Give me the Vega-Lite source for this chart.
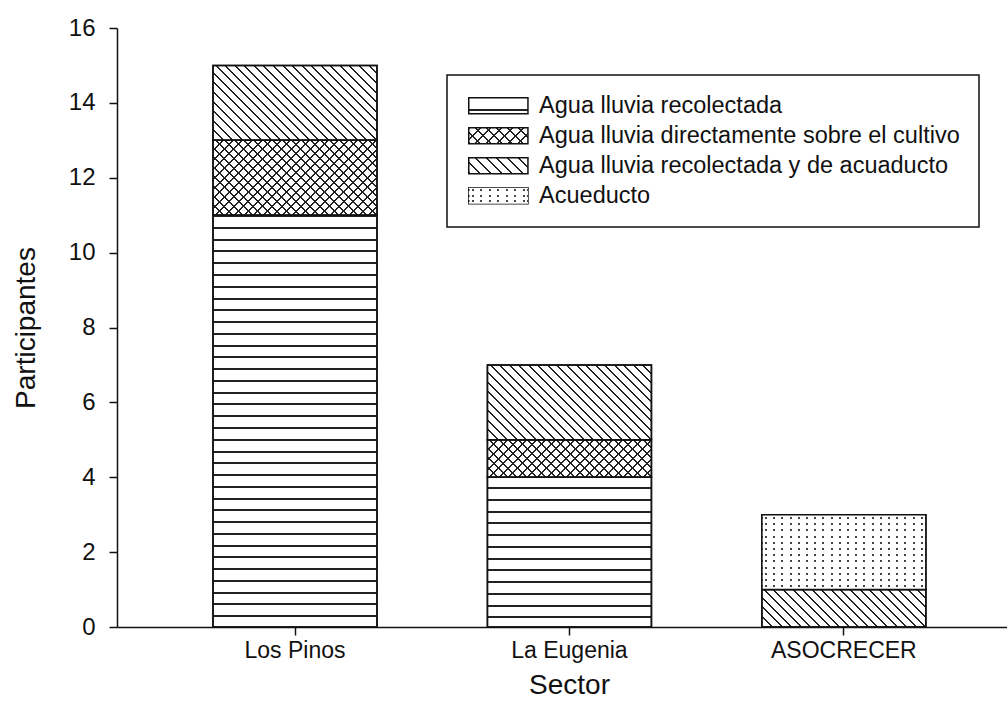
{
  "$schema": "https://vega.github.io/schema/vega-lite/v6.json",
  "width": 890,
  "height": 599,
  "autosize": {"type": "none"},
  "padding": {"left": 117, "top": 28, "right": 0, "bottom": 75},
  "background": "white",
  "config": {"view": {"stroke": null}, "font": "Liberation Sans", "legend": {"strokeWidth": 1.5}},
  "params": [
    {"name": "gLh", "value": {"gradient": "linear", "x1": 0, "y1": 0, "x2": 0, "y2": 1, "stops": [
      {"offset": 0, "color": "#fff"}, {"offset": 0.68, "color": "#fff"}, {"offset": 0.68, "color": "#222"}, {"offset": 0.8, "color": "#222"}, {"offset": 0.8, "color": "#fff"}, {"offset": 1, "color": "#fff"}]}},
    {"name": "gLd", "value": {"gradient": "linear", "x1": 0, "y1": 1, "x2": 1.1838, "y2": 0.68, "stops": [
      {"offset": 0, "color": "#222"}, {"offset": 0.0266, "color": "#222"}, {"offset": 0.0266, "color": "#fff"}, {"offset": 0.14286, "color": "#fff"},
      {"offset": 0.14286, "color": "#222"}, {"offset": 0.16946, "color": "#222"}, {"offset": 0.16946, "color": "#fff"}, {"offset": 0.28571, "color": "#fff"},
      {"offset": 0.28571, "color": "#222"}, {"offset": 0.31231, "color": "#222"}, {"offset": 0.31231, "color": "#fff"}, {"offset": 0.42857, "color": "#fff"},
      {"offset": 0.42857, "color": "#222"}, {"offset": 0.45517, "color": "#222"}, {"offset": 0.45517, "color": "#fff"}, {"offset": 0.57143, "color": "#fff"},
      {"offset": 0.57143, "color": "#222"}, {"offset": 0.59803, "color": "#222"}, {"offset": 0.59803, "color": "#fff"}, {"offset": 0.71429, "color": "#fff"},
      {"offset": 0.71429, "color": "#222"}, {"offset": 0.74089, "color": "#222"}, {"offset": 0.74089, "color": "#fff"}, {"offset": 0.85714, "color": "#fff"},
      {"offset": 0.85714, "color": "#222"}, {"offset": 0.88374, "color": "#222"}, {"offset": 0.88374, "color": "#fff"}, {"offset": 1, "color": "#fff"}]}},
    {"name": "gLv", "value": {"gradient": "linear", "x1": 0, "y1": 0, "x2": 1, "y2": 0, "stops": [
      {"offset": 0, "color": "#fff"}, {"offset": 0.05453, "color": "#fff"}, {"offset": 0.05453, "color": "#444"}, {"offset": 0.08833, "color": "#444"},
      {"offset": 0.08833, "color": "#fff"}, {"offset": 0.19739, "color": "#fff"}, {"offset": 0.19739, "color": "#444"}, {"offset": 0.23119, "color": "#444"},
      {"offset": 0.23119, "color": "#fff"}, {"offset": 0.34024, "color": "#fff"}, {"offset": 0.34024, "color": "#444"}, {"offset": 0.37404, "color": "#444"},
      {"offset": 0.37404, "color": "#fff"}, {"offset": 0.4831, "color": "#fff"}, {"offset": 0.4831, "color": "#444"}, {"offset": 0.5169, "color": "#444"},
      {"offset": 0.5169, "color": "#fff"}, {"offset": 0.62596, "color": "#fff"}, {"offset": 0.62596, "color": "#444"}, {"offset": 0.65976, "color": "#444"},
      {"offset": 0.65976, "color": "#fff"}, {"offset": 0.76881, "color": "#fff"}, {"offset": 0.76881, "color": "#444"}, {"offset": 0.80261, "color": "#444"},
      {"offset": 0.80261, "color": "#fff"}, {"offset": 0.91167, "color": "#fff"}, {"offset": 0.91167, "color": "#444"}, {"offset": 0.94547, "color": "#444"},
      {"offset": 0.94547, "color": "#fff"}, {"offset": 1, "color": "#fff"}]}},
    {"name": "gLa", "value": {"gradient": "linear", "x1": 0, "y1": 0, "x2": 1.1838, "y2": 0.32, "stops": [
      {"offset": 0, "color": "#222"}, {"offset": 0.0266, "color": "#222"}, {"offset": 0.0266, "color": "rgba(255,255,255,0)"}, {"offset": 0.14286, "color": "rgba(255,255,255,0)"},
      {"offset": 0.14286, "color": "#222"}, {"offset": 0.16946, "color": "#222"}, {"offset": 0.16946, "color": "rgba(255,255,255,0)"}, {"offset": 0.28571, "color": "rgba(255,255,255,0)"},
      {"offset": 0.28571, "color": "#222"}, {"offset": 0.31231, "color": "#222"}, {"offset": 0.31231, "color": "rgba(255,255,255,0)"}, {"offset": 0.42857, "color": "rgba(255,255,255,0)"},
      {"offset": 0.42857, "color": "#222"}, {"offset": 0.45517, "color": "#222"}, {"offset": 0.45517, "color": "rgba(255,255,255,0)"}, {"offset": 0.57143, "color": "rgba(255,255,255,0)"},
      {"offset": 0.57143, "color": "#222"}, {"offset": 0.59803, "color": "#222"}, {"offset": 0.59803, "color": "rgba(255,255,255,0)"}, {"offset": 0.71429, "color": "rgba(255,255,255,0)"},
      {"offset": 0.71429, "color": "#222"}, {"offset": 0.74089, "color": "#222"}, {"offset": 0.74089, "color": "rgba(255,255,255,0)"}, {"offset": 0.85714, "color": "rgba(255,255,255,0)"},
      {"offset": 0.85714, "color": "#222"}, {"offset": 0.88374, "color": "#222"}, {"offset": 0.88374, "color": "rgba(255,255,255,0)"}, {"offset": 1, "color": "rgba(255,255,255,0)"}]}},
    {"name": "gLhw", "value": {"gradient": "linear", "x1": 0, "y1": 0, "x2": 0, "y2": 1, "stops": [
      {"offset": 0, "color": "#fff"}, {"offset": 0.10417, "color": "#fff"}, {"offset": 0.10417, "color": "rgba(255,255,255,0)"}, {"offset": 0.22917, "color": "rgba(255,255,255,0)"},
      {"offset": 0.22917, "color": "#fff"}, {"offset": 0.4375, "color": "#fff"}, {"offset": 0.4375, "color": "rgba(255,255,255,0)"}, {"offset": 0.5625, "color": "rgba(255,255,255,0)"},
      {"offset": 0.5625, "color": "#fff"}, {"offset": 0.77083, "color": "#fff"}, {"offset": 0.77083, "color": "rgba(255,255,255,0)"}, {"offset": 0.89583, "color": "rgba(255,255,255,0)"},
      {"offset": 0.89583, "color": "#fff"}, {"offset": 1, "color": "#fff"}]}}
  ],
  "data": {"values": [
    {"Sector": "Los Pinos", "Tipo": "Agua lluvia recolectada", "orden": 1, "Participantes": 11},
    {"Sector": "Los Pinos", "Tipo": "Agua lluvia directamente sobre el cultivo", "orden": 2, "Participantes": 2},
    {"Sector": "Los Pinos", "Tipo": "Agua lluvia recolectada y de acuaducto", "orden": 3, "Participantes": 2},
    {"Sector": "La Eugenia", "Tipo": "Agua lluvia recolectada", "orden": 1, "Participantes": 4},
    {"Sector": "La Eugenia", "Tipo": "Agua lluvia directamente sobre el cultivo", "orden": 2, "Participantes": 1},
    {"Sector": "La Eugenia", "Tipo": "Agua lluvia recolectada y de acuaducto", "orden": 3, "Participantes": 2},
    {"Sector": "ASOCRECER", "Tipo": "Agua lluvia recolectada y de acuaducto", "orden": 3, "Participantes": 1},
    {"Sector": "ASOCRECER", "Tipo": "Acueducto", "orden": 4, "Participantes": 2}
  ]},
  "encoding": {
    "x": {"field": "Sector", "type": "nominal", "sort": ["Los Pinos", "La Eugenia", "ASOCRECER"],
      "scale": {"paddingInner": 0.4024, "paddingOuter": 0.3227, "align": 0.542},
      "axis": {"title": "Sector", "labelAngle": 0, "labelFont": "Liberation Sans", "labelFontSize": 23, "labelColor": "#111", "labelPadding": 4,
        "tickSize": 8, "tickColor": "#111", "tickWidth": 1.5, "domainColor": "#111", "domainWidth": 1.5,
        "titleFont": "Liberation Sans", "titleFontSize": 28, "titleFontWeight": "normal", "titleColor": "#111", "titlePadding": 9, "titleX": 452}},
    "y": {"field": "Participantes", "type": "quantitative", "stack": "zero",
      "scale": {"domain": [0, 16], "nice": false},
      "axis": {"title": "Participantes", "values": [0, 2, 4, 6, 8, 10, 12, 14, 16], "format": "d", "grid": false,
        "labelFont": "Liberation Sans", "labelFontSize": 24, "labelColor": "#111", "labelPadding": 14,
        "tickSize": 8, "tickColor": "#111", "tickWidth": 1.5, "domainColor": "#111", "domainWidth": 1.5,
        "titleFont": "Liberation Sans", "titleFontSize": 28, "titleFontWeight": "normal", "titleColor": "#111", "titlePadding": 28}},
    "order": {"field": "orden", "type": "quantitative"}
  },
  "layer": [
    {
      "mark": {"type": "bar", "stroke": "#111", "strokeWidth": 1.5},
      "encoding": {
        "fill": {
          "field": "Tipo", "type": "nominal",
          "scale": {
            "domain": ["Agua lluvia recolectada", "Agua lluvia directamente sobre el cultivo", "Agua lluvia recolectada y de acuaducto", "Acueducto"],
            "range": [{"expr": "gLh"}, {"expr": "gLd"}, {"expr": "gLd"}, {"expr": "gLv"}]
          },
          "legend": {"orient": "none", "legendX": 330, "legendY": 47, "title": null, "strokeColor": "#111", "padding": 19,
            "symbolType": "M-3.7,-1H3.7V1H-3.7Z", "symbolSize": 256, "symbolStrokeColor": "#111", "symbolStrokeWidth": 1.5,
            "symbolOffset": 20.6, "labelOffset": 29, "labelFont": "Liberation Sans", "labelFontSize": 23.5, "labelColor": "#111", "labelLimit": 800, "rowPadding": 5},
          "condition": [
            {"test": "datum.Sector === 'Los Pinos' && datum.Tipo === 'Agua lluvia recolectada'",
             "value": {"gradient": "linear", "x1": 0, "y1": 0, "x2": 0, "y2": 1, "stops": [
              {"offset": 0, "color": "#222"}, {"offset": 0.00486, "color": "#222"}, {"offset": 0.00486, "color": "#fff"}, {"offset": 0.02857, "color": "#fff"},
              {"offset": 0.02857, "color": "#222"}, {"offset": 0.03343, "color": "#222"}, {"offset": 0.03343, "color": "#fff"}, {"offset": 0.05714, "color": "#fff"},
              {"offset": 0.05714, "color": "#222"}, {"offset": 0.062, "color": "#222"}, {"offset": 0.062, "color": "#fff"}, {"offset": 0.08571, "color": "#fff"},
              {"offset": 0.08571, "color": "#222"}, {"offset": 0.09057, "color": "#222"}, {"offset": 0.09057, "color": "#fff"}, {"offset": 0.11429, "color": "#fff"},
              {"offset": 0.11429, "color": "#222"}, {"offset": 0.11915, "color": "#222"}, {"offset": 0.11915, "color": "#fff"}, {"offset": 0.14286, "color": "#fff"},
              {"offset": 0.14286, "color": "#222"}, {"offset": 0.14772, "color": "#222"}, {"offset": 0.14772, "color": "#fff"}, {"offset": 0.17143, "color": "#fff"},
              {"offset": 0.17143, "color": "#222"}, {"offset": 0.17629, "color": "#222"}, {"offset": 0.17629, "color": "#fff"}, {"offset": 0.2, "color": "#fff"},
              {"offset": 0.2, "color": "#222"}, {"offset": 0.20486, "color": "#222"}, {"offset": 0.20486, "color": "#fff"}, {"offset": 0.22857, "color": "#fff"},
              {"offset": 0.22857, "color": "#222"}, {"offset": 0.23343, "color": "#222"}, {"offset": 0.23343, "color": "#fff"}, {"offset": 0.25714, "color": "#fff"},
              {"offset": 0.25714, "color": "#222"}, {"offset": 0.262, "color": "#222"}, {"offset": 0.262, "color": "#fff"}, {"offset": 0.28571, "color": "#fff"},
              {"offset": 0.28571, "color": "#222"}, {"offset": 0.29057, "color": "#222"}, {"offset": 0.29057, "color": "#fff"}, {"offset": 0.31429, "color": "#fff"},
              {"offset": 0.31429, "color": "#222"}, {"offset": 0.31915, "color": "#222"}, {"offset": 0.31915, "color": "#fff"}, {"offset": 0.34286, "color": "#fff"},
              {"offset": 0.34286, "color": "#222"}, {"offset": 0.34772, "color": "#222"}, {"offset": 0.34772, "color": "#fff"}, {"offset": 0.37143, "color": "#fff"},
              {"offset": 0.37143, "color": "#222"}, {"offset": 0.37629, "color": "#222"}, {"offset": 0.37629, "color": "#fff"}, {"offset": 0.4, "color": "#fff"},
              {"offset": 0.4, "color": "#222"}, {"offset": 0.40486, "color": "#222"}, {"offset": 0.40486, "color": "#fff"}, {"offset": 0.42857, "color": "#fff"},
              {"offset": 0.42857, "color": "#222"}, {"offset": 0.43343, "color": "#222"}, {"offset": 0.43343, "color": "#fff"}, {"offset": 0.45714, "color": "#fff"},
              {"offset": 0.45714, "color": "#222"}, {"offset": 0.462, "color": "#222"}, {"offset": 0.462, "color": "#fff"}, {"offset": 0.48571, "color": "#fff"},
              {"offset": 0.48571, "color": "#222"}, {"offset": 0.49057, "color": "#222"}, {"offset": 0.49057, "color": "#fff"}, {"offset": 0.51429, "color": "#fff"},
              {"offset": 0.51429, "color": "#222"}, {"offset": 0.51915, "color": "#222"}, {"offset": 0.51915, "color": "#fff"}, {"offset": 0.54286, "color": "#fff"},
              {"offset": 0.54286, "color": "#222"}, {"offset": 0.54772, "color": "#222"}, {"offset": 0.54772, "color": "#fff"}, {"offset": 0.57143, "color": "#fff"},
              {"offset": 0.57143, "color": "#222"}, {"offset": 0.57629, "color": "#222"}, {"offset": 0.57629, "color": "#fff"}, {"offset": 0.6, "color": "#fff"},
              {"offset": 0.6, "color": "#222"}, {"offset": 0.60486, "color": "#222"}, {"offset": 0.60486, "color": "#fff"}, {"offset": 0.62857, "color": "#fff"},
              {"offset": 0.62857, "color": "#222"}, {"offset": 0.63343, "color": "#222"}, {"offset": 0.63343, "color": "#fff"}, {"offset": 0.65714, "color": "#fff"},
              {"offset": 0.65714, "color": "#222"}, {"offset": 0.662, "color": "#222"}, {"offset": 0.662, "color": "#fff"}, {"offset": 0.68571, "color": "#fff"},
              {"offset": 0.68571, "color": "#222"}, {"offset": 0.69057, "color": "#222"}, {"offset": 0.69057, "color": "#fff"}, {"offset": 0.71429, "color": "#fff"},
              {"offset": 0.71429, "color": "#222"}, {"offset": 0.71915, "color": "#222"}, {"offset": 0.71915, "color": "#fff"}, {"offset": 0.74286, "color": "#fff"},
              {"offset": 0.74286, "color": "#222"}, {"offset": 0.74772, "color": "#222"}, {"offset": 0.74772, "color": "#fff"}, {"offset": 0.77143, "color": "#fff"},
              {"offset": 0.77143, "color": "#222"}, {"offset": 0.77629, "color": "#222"}, {"offset": 0.77629, "color": "#fff"}, {"offset": 0.8, "color": "#fff"},
              {"offset": 0.8, "color": "#222"}, {"offset": 0.80486, "color": "#222"}, {"offset": 0.80486, "color": "#fff"}, {"offset": 0.82857, "color": "#fff"},
              {"offset": 0.82857, "color": "#222"}, {"offset": 0.83343, "color": "#222"}, {"offset": 0.83343, "color": "#fff"}, {"offset": 0.85714, "color": "#fff"},
              {"offset": 0.85714, "color": "#222"}, {"offset": 0.862, "color": "#222"}, {"offset": 0.862, "color": "#fff"}, {"offset": 0.88571, "color": "#fff"},
              {"offset": 0.88571, "color": "#222"}, {"offset": 0.89057, "color": "#222"}, {"offset": 0.89057, "color": "#fff"}, {"offset": 0.91429, "color": "#fff"},
              {"offset": 0.91429, "color": "#222"}, {"offset": 0.91915, "color": "#222"}, {"offset": 0.91915, "color": "#fff"}, {"offset": 0.94286, "color": "#fff"},
              {"offset": 0.94286, "color": "#222"}, {"offset": 0.94772, "color": "#222"}, {"offset": 0.94772, "color": "#fff"}, {"offset": 0.97143, "color": "#fff"},
              {"offset": 0.97143, "color": "#222"}, {"offset": 0.97629, "color": "#222"}, {"offset": 0.97629, "color": "#fff"}, {"offset": 1, "color": "#fff"}]}},
            {"test": "datum.Sector === 'La Eugenia' && datum.Tipo === 'Agua lluvia recolectada'",
             "value": {"gradient": "linear", "x1": 0, "y1": 0, "x2": 0, "y2": 1, "stops": [
              {"offset": 0, "color": "#fff"},
              {"offset": 0.0668, "color": "#fff"}, {"offset": 0.0668, "color": "#222"}, {"offset": 0.08016, "color": "#222"}, {"offset": 0.08016, "color": "#fff"},
              {"offset": 0.1451, "color": "#fff"}, {"offset": 0.1451, "color": "#222"}, {"offset": 0.15846, "color": "#222"}, {"offset": 0.15846, "color": "#fff"},
              {"offset": 0.2235, "color": "#fff"}, {"offset": 0.2235, "color": "#222"}, {"offset": 0.23686, "color": "#222"}, {"offset": 0.23686, "color": "#fff"},
              {"offset": 0.3018, "color": "#fff"}, {"offset": 0.3018, "color": "#222"}, {"offset": 0.31516, "color": "#222"}, {"offset": 0.31516, "color": "#fff"},
              {"offset": 0.3801, "color": "#fff"}, {"offset": 0.3801, "color": "#222"}, {"offset": 0.39346, "color": "#222"}, {"offset": 0.39346, "color": "#fff"},
              {"offset": 0.4585, "color": "#fff"}, {"offset": 0.4585, "color": "#222"}, {"offset": 0.47186, "color": "#222"}, {"offset": 0.47186, "color": "#fff"},
              {"offset": 0.5368, "color": "#fff"}, {"offset": 0.5368, "color": "#222"}, {"offset": 0.55016, "color": "#222"}, {"offset": 0.55016, "color": "#fff"},
              {"offset": 0.6151, "color": "#fff"}, {"offset": 0.6151, "color": "#222"}, {"offset": 0.62846, "color": "#222"}, {"offset": 0.62846, "color": "#fff"},
              {"offset": 0.6935, "color": "#fff"}, {"offset": 0.6935, "color": "#222"}, {"offset": 0.70686, "color": "#222"}, {"offset": 0.70686, "color": "#fff"},
              {"offset": 0.7718, "color": "#fff"}, {"offset": 0.7718, "color": "#222"}, {"offset": 0.78516, "color": "#222"}, {"offset": 0.78516, "color": "#fff"},
              {"offset": 0.8501, "color": "#fff"}, {"offset": 0.8501, "color": "#222"}, {"offset": 0.86346, "color": "#222"}, {"offset": 0.86346, "color": "#fff"},
              {"offset": 0.9285, "color": "#fff"}, {"offset": 0.9285, "color": "#222"}, {"offset": 0.94186, "color": "#222"}, {"offset": 0.94186, "color": "#fff"},
              {"offset": 1, "color": "#fff"}]}},
            {"test": "(datum.Sector === 'Los Pinos' && datum.Tipo !== 'Agua lluvia recolectada') || (datum.Sector === 'La Eugenia' && datum.Tipo === 'Agua lluvia recolectada y de acuaducto')",
             "value": {"gradient": "linear", "x1": 0, "y1": 1, "x2": 1.20532, "y2": 0.4497, "stops": [
              {"offset": 0, "color": "#222"}, {"offset": 0.00837, "color": "#222"}, {"offset": 0.00837, "color": "#fff"}, {"offset": 0.04, "color": "#fff"},
              {"offset": 0.04, "color": "#222"}, {"offset": 0.04837, "color": "#222"}, {"offset": 0.04837, "color": "#fff"}, {"offset": 0.08, "color": "#fff"},
              {"offset": 0.08, "color": "#222"}, {"offset": 0.08837, "color": "#222"}, {"offset": 0.08837, "color": "#fff"}, {"offset": 0.12, "color": "#fff"},
              {"offset": 0.12, "color": "#222"}, {"offset": 0.12837, "color": "#222"}, {"offset": 0.12837, "color": "#fff"}, {"offset": 0.16, "color": "#fff"},
              {"offset": 0.16, "color": "#222"}, {"offset": 0.16837, "color": "#222"}, {"offset": 0.16837, "color": "#fff"}, {"offset": 0.2, "color": "#fff"},
              {"offset": 0.2, "color": "#222"}, {"offset": 0.20837, "color": "#222"}, {"offset": 0.20837, "color": "#fff"}, {"offset": 0.24, "color": "#fff"},
              {"offset": 0.24, "color": "#222"}, {"offset": 0.24837, "color": "#222"}, {"offset": 0.24837, "color": "#fff"}, {"offset": 0.28, "color": "#fff"},
              {"offset": 0.28, "color": "#222"}, {"offset": 0.28837, "color": "#222"}, {"offset": 0.28837, "color": "#fff"}, {"offset": 0.32, "color": "#fff"},
              {"offset": 0.32, "color": "#222"}, {"offset": 0.32837, "color": "#222"}, {"offset": 0.32837, "color": "#fff"}, {"offset": 0.36, "color": "#fff"},
              {"offset": 0.36, "color": "#222"}, {"offset": 0.36837, "color": "#222"}, {"offset": 0.36837, "color": "#fff"}, {"offset": 0.4, "color": "#fff"},
              {"offset": 0.4, "color": "#222"}, {"offset": 0.40837, "color": "#222"}, {"offset": 0.40837, "color": "#fff"}, {"offset": 0.44, "color": "#fff"},
              {"offset": 0.44, "color": "#222"}, {"offset": 0.44837, "color": "#222"}, {"offset": 0.44837, "color": "#fff"}, {"offset": 0.48, "color": "#fff"},
              {"offset": 0.48, "color": "#222"}, {"offset": 0.48837, "color": "#222"}, {"offset": 0.48837, "color": "#fff"}, {"offset": 0.52, "color": "#fff"},
              {"offset": 0.52, "color": "#222"}, {"offset": 0.52837, "color": "#222"}, {"offset": 0.52837, "color": "#fff"}, {"offset": 0.56, "color": "#fff"},
              {"offset": 0.56, "color": "#222"}, {"offset": 0.56837, "color": "#222"}, {"offset": 0.56837, "color": "#fff"}, {"offset": 0.6, "color": "#fff"},
              {"offset": 0.6, "color": "#222"}, {"offset": 0.60837, "color": "#222"}, {"offset": 0.60837, "color": "#fff"}, {"offset": 0.64, "color": "#fff"},
              {"offset": 0.64, "color": "#222"}, {"offset": 0.64837, "color": "#222"}, {"offset": 0.64837, "color": "#fff"}, {"offset": 0.68, "color": "#fff"},
              {"offset": 0.68, "color": "#222"}, {"offset": 0.68837, "color": "#222"}, {"offset": 0.68837, "color": "#fff"}, {"offset": 0.72, "color": "#fff"},
              {"offset": 0.72, "color": "#222"}, {"offset": 0.72837, "color": "#222"}, {"offset": 0.72837, "color": "#fff"}, {"offset": 0.76, "color": "#fff"},
              {"offset": 0.76, "color": "#222"}, {"offset": 0.76837, "color": "#222"}, {"offset": 0.76837, "color": "#fff"}, {"offset": 0.8, "color": "#fff"},
              {"offset": 0.8, "color": "#222"}, {"offset": 0.80837, "color": "#222"}, {"offset": 0.80837, "color": "#fff"}, {"offset": 0.84, "color": "#fff"},
              {"offset": 0.84, "color": "#222"}, {"offset": 0.84837, "color": "#222"}, {"offset": 0.84837, "color": "#fff"}, {"offset": 0.88, "color": "#fff"},
              {"offset": 0.88, "color": "#222"}, {"offset": 0.88837, "color": "#222"}, {"offset": 0.88837, "color": "#fff"}, {"offset": 0.92, "color": "#fff"},
              {"offset": 0.92, "color": "#222"}, {"offset": 0.92837, "color": "#222"}, {"offset": 0.92837, "color": "#fff"}, {"offset": 0.96, "color": "#fff"},
              {"offset": 0.96, "color": "#222"}, {"offset": 0.96837, "color": "#222"}, {"offset": 0.96837, "color": "#fff"}, {"offset": 1, "color": "#fff"}]}},
            {"test": "(datum.Sector === 'La Eugenia' && datum.Tipo === 'Agua lluvia directamente sobre el cultivo') || (datum.Sector === 'ASOCRECER' && datum.Tipo === 'Agua lluvia recolectada y de acuaducto')",
             "value": {"gradient": "linear", "x1": 0, "y1": 1, "x2": 1.16744, "y2": 0.7335, "stops": [
              {"offset": 0, "color": "#222"}, {"offset": 0.00993, "color": "#222"}, {"offset": 0.00993, "color": "#fff"}, {"offset": 0.04762, "color": "#fff"},
              {"offset": 0.04762, "color": "#222"}, {"offset": 0.05755, "color": "#222"}, {"offset": 0.05755, "color": "#fff"}, {"offset": 0.09524, "color": "#fff"},
              {"offset": 0.09524, "color": "#222"}, {"offset": 0.10517, "color": "#222"}, {"offset": 0.10517, "color": "#fff"}, {"offset": 0.14286, "color": "#fff"},
              {"offset": 0.14286, "color": "#222"}, {"offset": 0.15279, "color": "#222"}, {"offset": 0.15279, "color": "#fff"}, {"offset": 0.19048, "color": "#fff"},
              {"offset": 0.19048, "color": "#222"}, {"offset": 0.20041, "color": "#222"}, {"offset": 0.20041, "color": "#fff"}, {"offset": 0.2381, "color": "#fff"},
              {"offset": 0.2381, "color": "#222"}, {"offset": 0.24803, "color": "#222"}, {"offset": 0.24803, "color": "#fff"}, {"offset": 0.28571, "color": "#fff"},
              {"offset": 0.28571, "color": "#222"}, {"offset": 0.29564, "color": "#222"}, {"offset": 0.29564, "color": "#fff"}, {"offset": 0.33333, "color": "#fff"},
              {"offset": 0.33333, "color": "#222"}, {"offset": 0.34326, "color": "#222"}, {"offset": 0.34326, "color": "#fff"}, {"offset": 0.38095, "color": "#fff"},
              {"offset": 0.38095, "color": "#222"}, {"offset": 0.39088, "color": "#222"}, {"offset": 0.39088, "color": "#fff"}, {"offset": 0.42857, "color": "#fff"},
              {"offset": 0.42857, "color": "#222"}, {"offset": 0.4385, "color": "#222"}, {"offset": 0.4385, "color": "#fff"}, {"offset": 0.47619, "color": "#fff"},
              {"offset": 0.47619, "color": "#222"}, {"offset": 0.48612, "color": "#222"}, {"offset": 0.48612, "color": "#fff"}, {"offset": 0.52381, "color": "#fff"},
              {"offset": 0.52381, "color": "#222"}, {"offset": 0.53374, "color": "#222"}, {"offset": 0.53374, "color": "#fff"}, {"offset": 0.57143, "color": "#fff"},
              {"offset": 0.57143, "color": "#222"}, {"offset": 0.58136, "color": "#222"}, {"offset": 0.58136, "color": "#fff"}, {"offset": 0.61905, "color": "#fff"},
              {"offset": 0.61905, "color": "#222"}, {"offset": 0.62898, "color": "#222"}, {"offset": 0.62898, "color": "#fff"}, {"offset": 0.66667, "color": "#fff"},
              {"offset": 0.66667, "color": "#222"}, {"offset": 0.6766, "color": "#222"}, {"offset": 0.6766, "color": "#fff"}, {"offset": 0.71429, "color": "#fff"},
              {"offset": 0.71429, "color": "#222"}, {"offset": 0.72422, "color": "#222"}, {"offset": 0.72422, "color": "#fff"}, {"offset": 0.7619, "color": "#fff"},
              {"offset": 0.7619, "color": "#222"}, {"offset": 0.77183, "color": "#222"}, {"offset": 0.77183, "color": "#fff"}, {"offset": 0.80952, "color": "#fff"},
              {"offset": 0.80952, "color": "#222"}, {"offset": 0.81945, "color": "#222"}, {"offset": 0.81945, "color": "#fff"}, {"offset": 0.85714, "color": "#fff"},
              {"offset": 0.85714, "color": "#222"}, {"offset": 0.86707, "color": "#222"}, {"offset": 0.86707, "color": "#fff"}, {"offset": 0.90476, "color": "#fff"},
              {"offset": 0.90476, "color": "#222"}, {"offset": 0.91469, "color": "#222"}, {"offset": 0.91469, "color": "#fff"}, {"offset": 0.95238, "color": "#fff"},
              {"offset": 0.95238, "color": "#222"}, {"offset": 0.96231, "color": "#222"}, {"offset": 0.96231, "color": "#fff"}, {"offset": 1, "color": "#fff"}]}},
            {"test": "datum.Tipo === 'Acueducto'",
             "value": {"gradient": "linear", "x1": 0, "y1": 0, "x2": 1, "y2": 0, "stops": [
              {"offset": 0, "color": "#fff"},
              {"offset": 0.0189, "color": "#fff"}, {"offset": 0.0189, "color": "#444"}, {"offset": 0.0311, "color": "#444"}, {"offset": 0.0311, "color": "#fff"},
              {"offset": 0.0689, "color": "#fff"}, {"offset": 0.0689, "color": "#444"}, {"offset": 0.0811, "color": "#444"}, {"offset": 0.0811, "color": "#fff"},
              {"offset": 0.1189, "color": "#fff"}, {"offset": 0.1189, "color": "#444"}, {"offset": 0.1311, "color": "#444"}, {"offset": 0.1311, "color": "#fff"},
              {"offset": 0.1689, "color": "#fff"}, {"offset": 0.1689, "color": "#444"}, {"offset": 0.1811, "color": "#444"}, {"offset": 0.1811, "color": "#fff"},
              {"offset": 0.2189, "color": "#fff"}, {"offset": 0.2189, "color": "#444"}, {"offset": 0.2311, "color": "#444"}, {"offset": 0.2311, "color": "#fff"},
              {"offset": 0.2689, "color": "#fff"}, {"offset": 0.2689, "color": "#444"}, {"offset": 0.2811, "color": "#444"}, {"offset": 0.2811, "color": "#fff"},
              {"offset": 0.3189, "color": "#fff"}, {"offset": 0.3189, "color": "#444"}, {"offset": 0.3311, "color": "#444"}, {"offset": 0.3311, "color": "#fff"},
              {"offset": 0.3689, "color": "#fff"}, {"offset": 0.3689, "color": "#444"}, {"offset": 0.3811, "color": "#444"}, {"offset": 0.3811, "color": "#fff"},
              {"offset": 0.4189, "color": "#fff"}, {"offset": 0.4189, "color": "#444"}, {"offset": 0.4311, "color": "#444"}, {"offset": 0.4311, "color": "#fff"},
              {"offset": 0.4689, "color": "#fff"}, {"offset": 0.4689, "color": "#444"}, {"offset": 0.4811, "color": "#444"}, {"offset": 0.4811, "color": "#fff"},
              {"offset": 0.5189, "color": "#fff"}, {"offset": 0.5189, "color": "#444"}, {"offset": 0.5311, "color": "#444"}, {"offset": 0.5311, "color": "#fff"},
              {"offset": 0.5689, "color": "#fff"}, {"offset": 0.5689, "color": "#444"}, {"offset": 0.5811, "color": "#444"}, {"offset": 0.5811, "color": "#fff"},
              {"offset": 0.6189, "color": "#fff"}, {"offset": 0.6189, "color": "#444"}, {"offset": 0.6311, "color": "#444"}, {"offset": 0.6311, "color": "#fff"},
              {"offset": 0.6689, "color": "#fff"}, {"offset": 0.6689, "color": "#444"}, {"offset": 0.6811, "color": "#444"}, {"offset": 0.6811, "color": "#fff"},
              {"offset": 0.7189, "color": "#fff"}, {"offset": 0.7189, "color": "#444"}, {"offset": 0.7311, "color": "#444"}, {"offset": 0.7311, "color": "#fff"},
              {"offset": 0.7689, "color": "#fff"}, {"offset": 0.7689, "color": "#444"}, {"offset": 0.7811, "color": "#444"}, {"offset": 0.7811, "color": "#fff"},
              {"offset": 0.8189, "color": "#fff"}, {"offset": 0.8189, "color": "#444"}, {"offset": 0.8311, "color": "#444"}, {"offset": 0.8311, "color": "#fff"},
              {"offset": 0.8689, "color": "#fff"}, {"offset": 0.8689, "color": "#444"}, {"offset": 0.8811, "color": "#444"}, {"offset": 0.8811, "color": "#fff"},
              {"offset": 0.9189, "color": "#fff"}, {"offset": 0.9189, "color": "#444"}, {"offset": 0.9311, "color": "#444"}, {"offset": 0.9311, "color": "#fff"},
              {"offset": 0.9689, "color": "#fff"}, {"offset": 0.9689, "color": "#444"}, {"offset": 0.9811, "color": "#444"}, {"offset": 0.9811, "color": "#fff"},
              {"offset": 1, "color": "#fff"}]}}
          ]
        }
      }
    },
    {
      "mark": {"type": "bar", "stroke": "#111", "strokeWidth": 1.5},
      "encoding": {
        "fill": {
          "field": "Tipo", "type": "nominal",
          "scale": {
            "domain": ["Agua lluvia recolectada", "Agua lluvia directamente sobre el cultivo", "Agua lluvia recolectada y de acuaducto", "Acueducto"],
            "range": ["transparent", {"expr": "gLa"}, "transparent", {"expr": "gLhw"}]
          },
          "legend": {"orient": "none", "legendX": 330, "legendY": 47, "title": null, "strokeColor": null, "padding": 19,
            "symbolType": "M-3.7,-1H3.7V1H-3.7Z", "symbolSize": 256, "symbolStrokeColor": "transparent", "symbolStrokeWidth": 1.5,
            "symbolOffset": 20.6, "labelOffset": 29, "labelFont": "Liberation Sans", "labelFontSize": 23.5, "labelOpacity": 0, "labelLimit": 800, "rowPadding": 5},
          "condition": [
            {"test": "datum.Sector === 'Los Pinos' && datum.Tipo === 'Agua lluvia directamente sobre el cultivo'",
             "value": {"gradient": "linear", "x1": 0, "y1": 0, "x2": 1.20532, "y2": 0.5503, "stops": [
              {"offset": 0, "color": "#222"}, {"offset": 0.00837, "color": "#222"}, {"offset": 0.00837, "color": "rgba(255,255,255,0)"}, {"offset": 0.04, "color": "rgba(255,255,255,0)"},
              {"offset": 0.04, "color": "#222"}, {"offset": 0.04837, "color": "#222"}, {"offset": 0.04837, "color": "rgba(255,255,255,0)"}, {"offset": 0.08, "color": "rgba(255,255,255,0)"},
              {"offset": 0.08, "color": "#222"}, {"offset": 0.08837, "color": "#222"}, {"offset": 0.08837, "color": "rgba(255,255,255,0)"}, {"offset": 0.12, "color": "rgba(255,255,255,0)"},
              {"offset": 0.12, "color": "#222"}, {"offset": 0.12837, "color": "#222"}, {"offset": 0.12837, "color": "rgba(255,255,255,0)"}, {"offset": 0.16, "color": "rgba(255,255,255,0)"},
              {"offset": 0.16, "color": "#222"}, {"offset": 0.16837, "color": "#222"}, {"offset": 0.16837, "color": "rgba(255,255,255,0)"}, {"offset": 0.2, "color": "rgba(255,255,255,0)"},
              {"offset": 0.2, "color": "#222"}, {"offset": 0.20837, "color": "#222"}, {"offset": 0.20837, "color": "rgba(255,255,255,0)"}, {"offset": 0.24, "color": "rgba(255,255,255,0)"},
              {"offset": 0.24, "color": "#222"}, {"offset": 0.24837, "color": "#222"}, {"offset": 0.24837, "color": "rgba(255,255,255,0)"}, {"offset": 0.28, "color": "rgba(255,255,255,0)"},
              {"offset": 0.28, "color": "#222"}, {"offset": 0.28837, "color": "#222"}, {"offset": 0.28837, "color": "rgba(255,255,255,0)"}, {"offset": 0.32, "color": "rgba(255,255,255,0)"},
              {"offset": 0.32, "color": "#222"}, {"offset": 0.32837, "color": "#222"}, {"offset": 0.32837, "color": "rgba(255,255,255,0)"}, {"offset": 0.36, "color": "rgba(255,255,255,0)"},
              {"offset": 0.36, "color": "#222"}, {"offset": 0.36837, "color": "#222"}, {"offset": 0.36837, "color": "rgba(255,255,255,0)"}, {"offset": 0.4, "color": "rgba(255,255,255,0)"},
              {"offset": 0.4, "color": "#222"}, {"offset": 0.40837, "color": "#222"}, {"offset": 0.40837, "color": "rgba(255,255,255,0)"}, {"offset": 0.44, "color": "rgba(255,255,255,0)"},
              {"offset": 0.44, "color": "#222"}, {"offset": 0.44837, "color": "#222"}, {"offset": 0.44837, "color": "rgba(255,255,255,0)"}, {"offset": 0.48, "color": "rgba(255,255,255,0)"},
              {"offset": 0.48, "color": "#222"}, {"offset": 0.48837, "color": "#222"}, {"offset": 0.48837, "color": "rgba(255,255,255,0)"}, {"offset": 0.52, "color": "rgba(255,255,255,0)"},
              {"offset": 0.52, "color": "#222"}, {"offset": 0.52837, "color": "#222"}, {"offset": 0.52837, "color": "rgba(255,255,255,0)"}, {"offset": 0.56, "color": "rgba(255,255,255,0)"},
              {"offset": 0.56, "color": "#222"}, {"offset": 0.56837, "color": "#222"}, {"offset": 0.56837, "color": "rgba(255,255,255,0)"}, {"offset": 0.6, "color": "rgba(255,255,255,0)"},
              {"offset": 0.6, "color": "#222"}, {"offset": 0.60837, "color": "#222"}, {"offset": 0.60837, "color": "rgba(255,255,255,0)"}, {"offset": 0.64, "color": "rgba(255,255,255,0)"},
              {"offset": 0.64, "color": "#222"}, {"offset": 0.64837, "color": "#222"}, {"offset": 0.64837, "color": "rgba(255,255,255,0)"}, {"offset": 0.68, "color": "rgba(255,255,255,0)"},
              {"offset": 0.68, "color": "#222"}, {"offset": 0.68837, "color": "#222"}, {"offset": 0.68837, "color": "rgba(255,255,255,0)"}, {"offset": 0.72, "color": "rgba(255,255,255,0)"},
              {"offset": 0.72, "color": "#222"}, {"offset": 0.72837, "color": "#222"}, {"offset": 0.72837, "color": "rgba(255,255,255,0)"}, {"offset": 0.76, "color": "rgba(255,255,255,0)"},
              {"offset": 0.76, "color": "#222"}, {"offset": 0.76837, "color": "#222"}, {"offset": 0.76837, "color": "rgba(255,255,255,0)"}, {"offset": 0.8, "color": "rgba(255,255,255,0)"},
              {"offset": 0.8, "color": "#222"}, {"offset": 0.80837, "color": "#222"}, {"offset": 0.80837, "color": "rgba(255,255,255,0)"}, {"offset": 0.84, "color": "rgba(255,255,255,0)"},
              {"offset": 0.84, "color": "#222"}, {"offset": 0.84837, "color": "#222"}, {"offset": 0.84837, "color": "rgba(255,255,255,0)"}, {"offset": 0.88, "color": "rgba(255,255,255,0)"},
              {"offset": 0.88, "color": "#222"}, {"offset": 0.88837, "color": "#222"}, {"offset": 0.88837, "color": "rgba(255,255,255,0)"}, {"offset": 0.92, "color": "rgba(255,255,255,0)"},
              {"offset": 0.92, "color": "#222"}, {"offset": 0.92837, "color": "#222"}, {"offset": 0.92837, "color": "rgba(255,255,255,0)"}, {"offset": 0.96, "color": "rgba(255,255,255,0)"},
              {"offset": 0.96, "color": "#222"}, {"offset": 0.96837, "color": "#222"}, {"offset": 0.96837, "color": "rgba(255,255,255,0)"}, {"offset": 1, "color": "rgba(255,255,255,0)"}]}},
            {"test": "datum.Sector === 'La Eugenia' && datum.Tipo === 'Agua lluvia directamente sobre el cultivo'",
             "value": {"gradient": "linear", "x1": 0, "y1": 0, "x2": 1.16744, "y2": 0.2665, "stops": [
              {"offset": 0, "color": "#222"}, {"offset": 0.00993, "color": "#222"}, {"offset": 0.00993, "color": "rgba(255,255,255,0)"}, {"offset": 0.04762, "color": "rgba(255,255,255,0)"},
              {"offset": 0.04762, "color": "#222"}, {"offset": 0.05755, "color": "#222"}, {"offset": 0.05755, "color": "rgba(255,255,255,0)"}, {"offset": 0.09524, "color": "rgba(255,255,255,0)"},
              {"offset": 0.09524, "color": "#222"}, {"offset": 0.10517, "color": "#222"}, {"offset": 0.10517, "color": "rgba(255,255,255,0)"}, {"offset": 0.14286, "color": "rgba(255,255,255,0)"},
              {"offset": 0.14286, "color": "#222"}, {"offset": 0.15279, "color": "#222"}, {"offset": 0.15279, "color": "rgba(255,255,255,0)"}, {"offset": 0.19048, "color": "rgba(255,255,255,0)"},
              {"offset": 0.19048, "color": "#222"}, {"offset": 0.20041, "color": "#222"}, {"offset": 0.20041, "color": "rgba(255,255,255,0)"}, {"offset": 0.2381, "color": "rgba(255,255,255,0)"},
              {"offset": 0.2381, "color": "#222"}, {"offset": 0.24803, "color": "#222"}, {"offset": 0.24803, "color": "rgba(255,255,255,0)"}, {"offset": 0.28571, "color": "rgba(255,255,255,0)"},
              {"offset": 0.28571, "color": "#222"}, {"offset": 0.29564, "color": "#222"}, {"offset": 0.29564, "color": "rgba(255,255,255,0)"}, {"offset": 0.33333, "color": "rgba(255,255,255,0)"},
              {"offset": 0.33333, "color": "#222"}, {"offset": 0.34326, "color": "#222"}, {"offset": 0.34326, "color": "rgba(255,255,255,0)"}, {"offset": 0.38095, "color": "rgba(255,255,255,0)"},
              {"offset": 0.38095, "color": "#222"}, {"offset": 0.39088, "color": "#222"}, {"offset": 0.39088, "color": "rgba(255,255,255,0)"}, {"offset": 0.42857, "color": "rgba(255,255,255,0)"},
              {"offset": 0.42857, "color": "#222"}, {"offset": 0.4385, "color": "#222"}, {"offset": 0.4385, "color": "rgba(255,255,255,0)"}, {"offset": 0.47619, "color": "rgba(255,255,255,0)"},
              {"offset": 0.47619, "color": "#222"}, {"offset": 0.48612, "color": "#222"}, {"offset": 0.48612, "color": "rgba(255,255,255,0)"}, {"offset": 0.52381, "color": "rgba(255,255,255,0)"},
              {"offset": 0.52381, "color": "#222"}, {"offset": 0.53374, "color": "#222"}, {"offset": 0.53374, "color": "rgba(255,255,255,0)"}, {"offset": 0.57143, "color": "rgba(255,255,255,0)"},
              {"offset": 0.57143, "color": "#222"}, {"offset": 0.58136, "color": "#222"}, {"offset": 0.58136, "color": "rgba(255,255,255,0)"}, {"offset": 0.61905, "color": "rgba(255,255,255,0)"},
              {"offset": 0.61905, "color": "#222"}, {"offset": 0.62898, "color": "#222"}, {"offset": 0.62898, "color": "rgba(255,255,255,0)"}, {"offset": 0.66667, "color": "rgba(255,255,255,0)"},
              {"offset": 0.66667, "color": "#222"}, {"offset": 0.6766, "color": "#222"}, {"offset": 0.6766, "color": "rgba(255,255,255,0)"}, {"offset": 0.71429, "color": "rgba(255,255,255,0)"},
              {"offset": 0.71429, "color": "#222"}, {"offset": 0.72422, "color": "#222"}, {"offset": 0.72422, "color": "rgba(255,255,255,0)"}, {"offset": 0.7619, "color": "rgba(255,255,255,0)"},
              {"offset": 0.7619, "color": "#222"}, {"offset": 0.77183, "color": "#222"}, {"offset": 0.77183, "color": "rgba(255,255,255,0)"}, {"offset": 0.80952, "color": "rgba(255,255,255,0)"},
              {"offset": 0.80952, "color": "#222"}, {"offset": 0.81945, "color": "#222"}, {"offset": 0.81945, "color": "rgba(255,255,255,0)"}, {"offset": 0.85714, "color": "rgba(255,255,255,0)"},
              {"offset": 0.85714, "color": "#222"}, {"offset": 0.86707, "color": "#222"}, {"offset": 0.86707, "color": "rgba(255,255,255,0)"}, {"offset": 0.90476, "color": "rgba(255,255,255,0)"},
              {"offset": 0.90476, "color": "#222"}, {"offset": 0.91469, "color": "#222"}, {"offset": 0.91469, "color": "rgba(255,255,255,0)"}, {"offset": 0.95238, "color": "rgba(255,255,255,0)"},
              {"offset": 0.95238, "color": "#222"}, {"offset": 0.96231, "color": "#222"}, {"offset": 0.96231, "color": "rgba(255,255,255,0)"}, {"offset": 1, "color": "rgba(255,255,255,0)"}]}},
            {"test": "datum.Tipo === 'Acueducto'",
             "value": {"gradient": "linear", "x1": 0, "y1": 0, "x2": 0, "y2": 1, "stops": [
              {"offset": 0, "color": "#fff"},
              {"offset": 0.02831, "color": "#fff"}, {"offset": 0.02831, "color": "rgba(255,255,255,0)"}, {"offset": 0.05503, "color": "rgba(255,255,255,0)"}, {"offset": 0.05503, "color": "#fff"},
              {"offset": 0.11164, "color": "#fff"}, {"offset": 0.11164, "color": "rgba(255,255,255,0)"}, {"offset": 0.13836, "color": "rgba(255,255,255,0)"}, {"offset": 0.13836, "color": "#fff"},
              {"offset": 0.19497, "color": "#fff"}, {"offset": 0.19497, "color": "rgba(255,255,255,0)"}, {"offset": 0.22169, "color": "rgba(255,255,255,0)"}, {"offset": 0.22169, "color": "#fff"},
              {"offset": 0.27831, "color": "#fff"}, {"offset": 0.27831, "color": "rgba(255,255,255,0)"}, {"offset": 0.30503, "color": "rgba(255,255,255,0)"}, {"offset": 0.30503, "color": "#fff"},
              {"offset": 0.36164, "color": "#fff"}, {"offset": 0.36164, "color": "rgba(255,255,255,0)"}, {"offset": 0.38836, "color": "rgba(255,255,255,0)"}, {"offset": 0.38836, "color": "#fff"},
              {"offset": 0.44497, "color": "#fff"}, {"offset": 0.44497, "color": "rgba(255,255,255,0)"}, {"offset": 0.47169, "color": "rgba(255,255,255,0)"}, {"offset": 0.47169, "color": "#fff"},
              {"offset": 0.52831, "color": "#fff"}, {"offset": 0.52831, "color": "rgba(255,255,255,0)"}, {"offset": 0.55503, "color": "rgba(255,255,255,0)"}, {"offset": 0.55503, "color": "#fff"},
              {"offset": 0.61164, "color": "#fff"}, {"offset": 0.61164, "color": "rgba(255,255,255,0)"}, {"offset": 0.63836, "color": "rgba(255,255,255,0)"}, {"offset": 0.63836, "color": "#fff"},
              {"offset": 0.69497, "color": "#fff"}, {"offset": 0.69497, "color": "rgba(255,255,255,0)"}, {"offset": 0.72169, "color": "rgba(255,255,255,0)"}, {"offset": 0.72169, "color": "#fff"},
              {"offset": 0.77831, "color": "#fff"}, {"offset": 0.77831, "color": "rgba(255,255,255,0)"}, {"offset": 0.80503, "color": "rgba(255,255,255,0)"}, {"offset": 0.80503, "color": "#fff"},
              {"offset": 0.86164, "color": "#fff"}, {"offset": 0.86164, "color": "rgba(255,255,255,0)"}, {"offset": 0.88836, "color": "rgba(255,255,255,0)"}, {"offset": 0.88836, "color": "#fff"},
              {"offset": 0.94497, "color": "#fff"}, {"offset": 0.94497, "color": "rgba(255,255,255,0)"}, {"offset": 0.97169, "color": "rgba(255,255,255,0)"}, {"offset": 0.97169, "color": "#fff"},
              {"offset": 1, "color": "#fff"}]}}
          ]
        }
      }
    }
  ],
  "resolve": {"scale": {"fill": "independent"}, "legend": {"fill": "independent"}}
}
